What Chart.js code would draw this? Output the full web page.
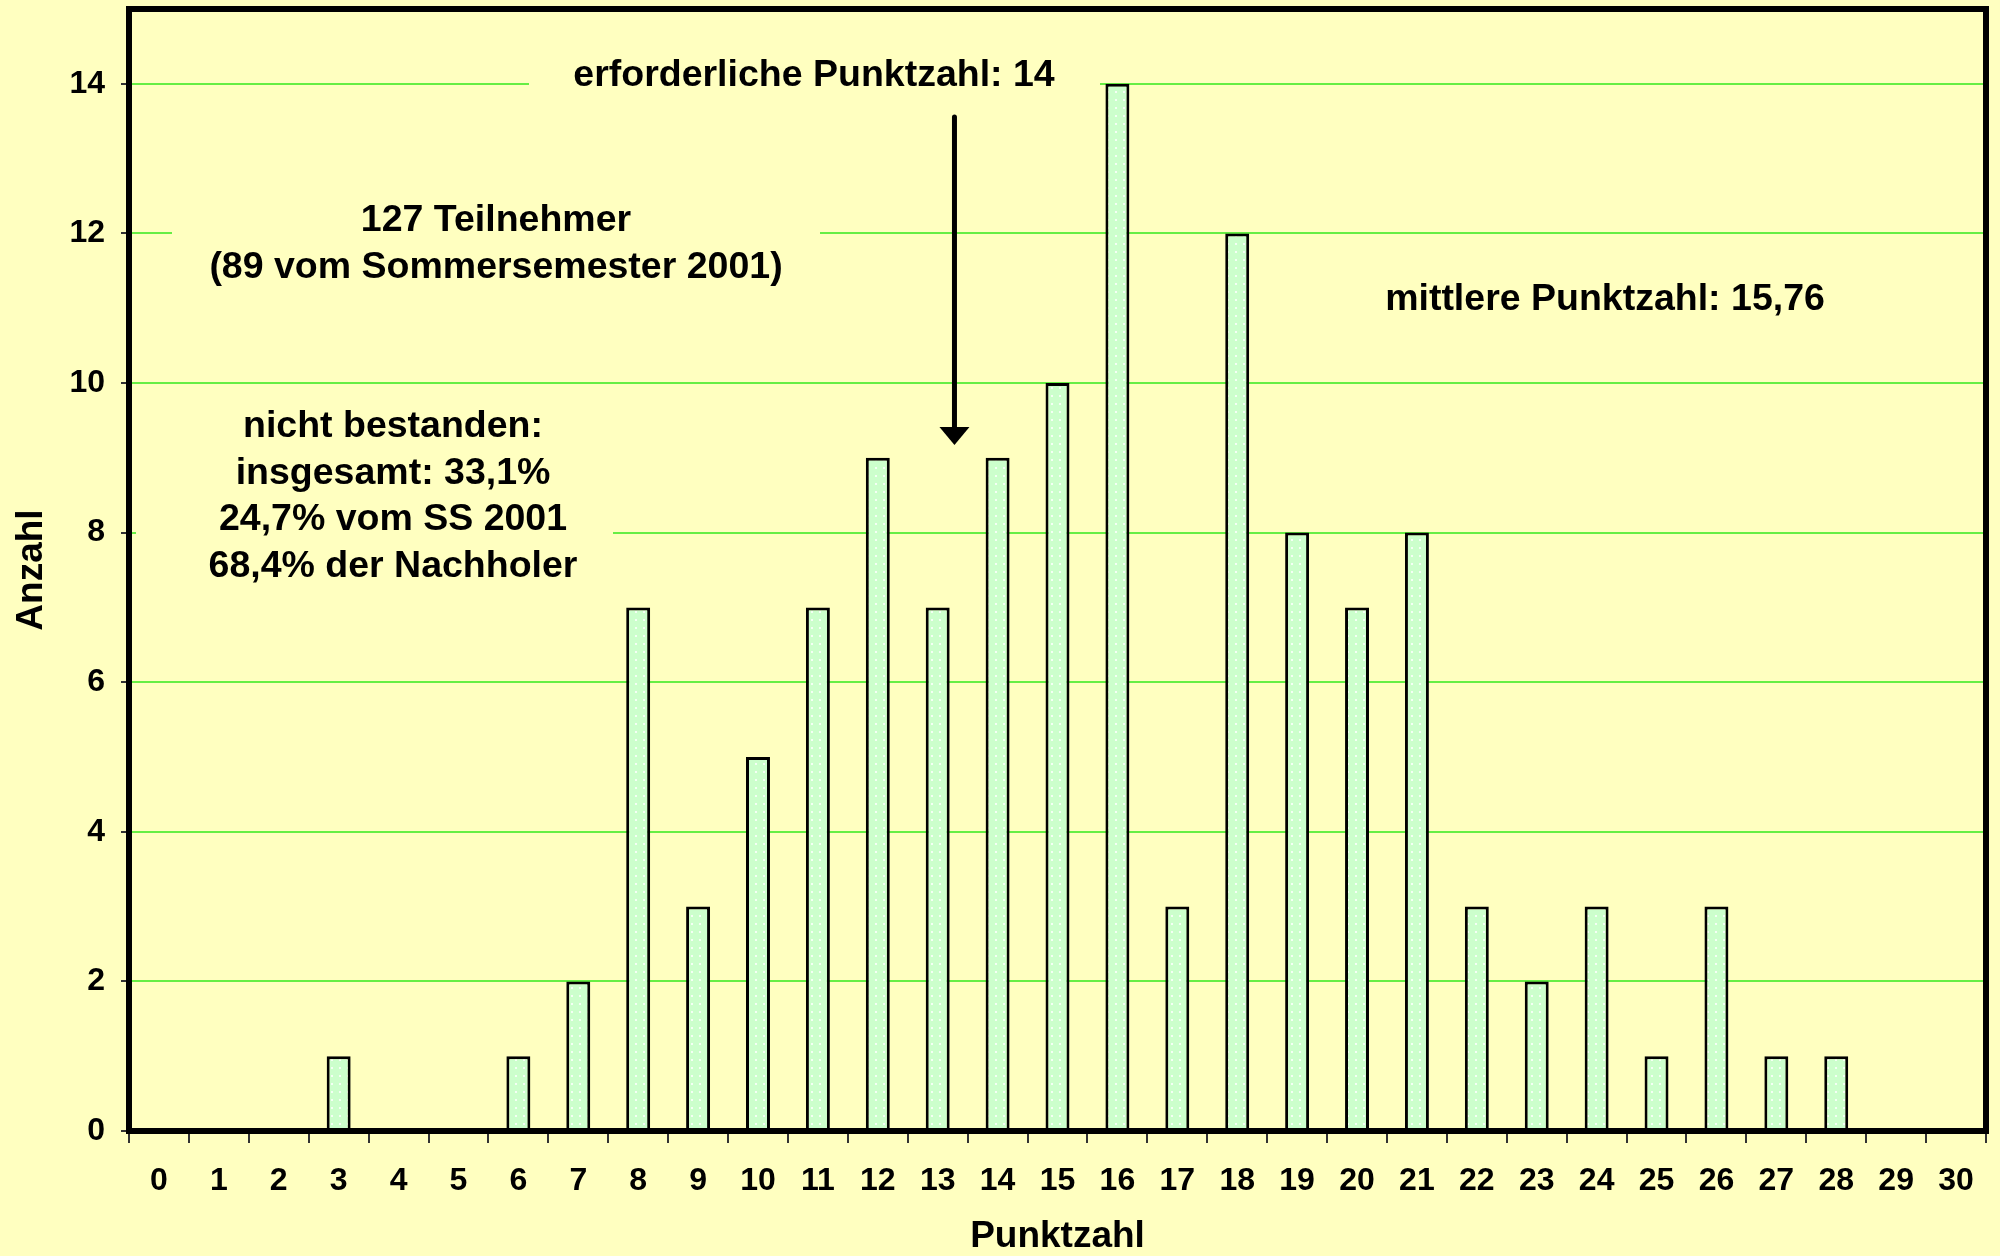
<!DOCTYPE html>
<html>
<head>
<meta charset="utf-8">
<title>Punktzahl</title>
<script src="https://cdn.jsdelivr.net/npm/chart.js@4.4.1/dist/chart.umd.min.js"></script>
<style>
    html, body { margin: 0; padding: 0; background: #ffffc0; }
    canvas { display: block; }
</style>
</head>
<body>
<canvas id="pointsChart" width="2000" height="1256"></canvas>
<script>
// Punktzahl 0..30
const points = ['0','1','2','3','4','5','6','7','8','9','10','11','12','13','14','15',
                '16','17','18','19','20','21','22','23','24','25','26','27','28','29','30'];
// Anzahl Teilnehmer je Punktzahl (Summe 127)
const counts = [0,0,0,1,0,0,1,2,7,3,5,7,9,7,9,10,14,3,12,8,7,8,3,2,3,1,3,1,1,0,0];
const yTicks = [0,2,4,6,8,10,12,14];

// text boxes on the chart (pixel layout)
const notes = [
    { lines: ['erforderliche Punktzahl: 14'], x: 814, y: 76, box: [529, 32, 1100, 118] },
    { lines: ['127 Teilnehmer', '(89 vom Sommersemester 2001)'], x: 496, y: 221, box: [172, 160, 820, 300] },
    { lines: ['mittlere Punktzahl: 15,76'], x: 1605, y: 300, box: null },
    { lines: ['nicht bestanden:', 'insgesamt: 33,1%', '24,7% vom SS 2001', '68,4% der Nachholer'],
      x: 393, y: 427, box: [136, 395, 613, 600] }
];

const bgColor = '#ffffc0';
const gridColor = '#66ee44';
const fontFamily = "'Liberation Sans', Arial, sans-serif";

// light green fill with small white dots
function dotPattern() {
    const c = document.createElement('canvas');
    c.width = 8; c.height = 8;
    const g = c.getContext('2d');
    g.fillStyle = '#ccffcc';
    g.fillRect(0, 0, 8, 8);
    g.fillStyle = '#f4fff4';
    g.fillRect(3, 3, 2, 2);
    return g.createPattern(c, 'repeat');
}

const backgroundPlugin = {
    id: 'bg',
    beforeDraw(chart) {
        const ctx = chart.ctx;
        ctx.save();
        ctx.fillStyle = bgColor;
        ctx.fillRect(0, 0, chart.width, chart.height);
        ctx.restore();
    }
};

const notesPlugin = {
    id: 'notes',
    beforeDatasetsDraw(chart) {
        const ctx = chart.ctx;
        ctx.save();
        ctx.fillStyle = bgColor;
        notes.forEach(n => {
            if (n.box) ctx.fillRect(n.box[0], n.box[1], n.box[2] - n.box[0], n.box[3] - n.box[1]);
        });
        ctx.restore();
    },
    afterDatasetsDraw(chart) {
        const ctx = chart.ctx;
        const area = chart.chartArea;
        ctx.save();
        // frame round the plot
        ctx.strokeStyle = '#000';
        ctx.lineWidth = 6;
        ctx.strokeRect(area.left, area.top, area.right - area.left, area.bottom - area.top);

        // texts
        ctx.fillStyle = '#000';
        ctx.font = 'bold 37.5px ' + fontFamily;
        ctx.textAlign = 'center';
        ctx.textBaseline = 'middle';
        notes.forEach(n => {
            n.lines.forEach((line, i) => ctx.fillText(line, n.x, n.y + i * 46.5));
        });

        // arrow to the required score
        const xs = chart.scales.x;
        const ax = xs.getPixelForValue(13) + 0.28 * (xs.getPixelForValue(14) - xs.getPixelForValue(13));
        const top = 117, tip = 445;
        ctx.lineWidth = 5;
        ctx.lineCap = 'round';
        ctx.beginPath();
        ctx.moveTo(ax, top);
        ctx.lineTo(ax, tip - 14);
        ctx.stroke();
        ctx.beginPath();
        ctx.moveTo(ax - 15, tip - 18);
        ctx.lineTo(ax + 15, tip - 18);
        ctx.lineTo(ax, tip);
        ctx.closePath();
        ctx.fill();
        ctx.restore();
    }
};

const ctx = document.getElementById('pointsChart').getContext('2d');
new Chart(ctx, {
    type: 'bar',
    data: {
        labels: points,
        datasets: [{
            label: 'Anzahl',
            data: counts,
            backgroundColor: dotPattern(),
            borderColor: '#000',
            borderWidth: 3,
            barPercentage: 0.4,
            categoryPercentage: 1.0
        }]
    },
    options: {
        responsive: false,
        animation: false,
        layout: { padding: { left: 0, right: 14, top: 9, bottom: 0 } },
        plugins: {
            legend: { display: false },
            tooltip: { enabled: false }
        },
        scales: {
            x: {
                afterFit: (s) => { s.height = 125; s.paddingLeft = 0; s.paddingRight = 0; },
                border: { display: false },
                grid: {
                    drawOnChartArea: false,
                    tickColor: '#333',
                    tickLength: 12,
                    lineWidth: 2,
                    offset: true
                },
                ticks: {
                    color: '#000',
                    padding: 19,
                    maxRotation: 0,
                    autoSkip: false,
                    font: { family: fontFamily, size: 32, weight: 'bold' }
                },
                title: {
                    display: true,
                    text: 'Punktzahl',
                    color: '#000',
                    padding: { top: 0, bottom: 1 },
                    font: { family: fontFamily, size: 37, weight: 'bold', lineHeight: 1 }
                }
            },
            y: {
                min: 0,
                max: 15,
                afterFit: (s) => { s.width = 129; s.paddingTop = 0; s.paddingBottom = 0; },
                afterBuildTicks: (s) => { s.ticks = yTicks.map(v => ({ value: v })); },
                border: { display: false },
                grid: {
                    color: gridColor,
                    lineWidth: 2,
                    tickColor: '#333',
                    tickLength: 8
                },
                ticks: {
                    color: '#000',
                    padding: 16,
                    font: { family: fontFamily, size: 32, weight: 'bold' }
                },
                title: {
                    display: true,
                    text: 'Anzahl',
                    color: '#000',
                    padding: { top: 13, bottom: 0 },
                    font: { family: fontFamily, size: 37, weight: 'bold', lineHeight: 1 }
                }
            }
        }
    },
    plugins: [backgroundPlugin, notesPlugin]
});
</script>
</body>
</html>
